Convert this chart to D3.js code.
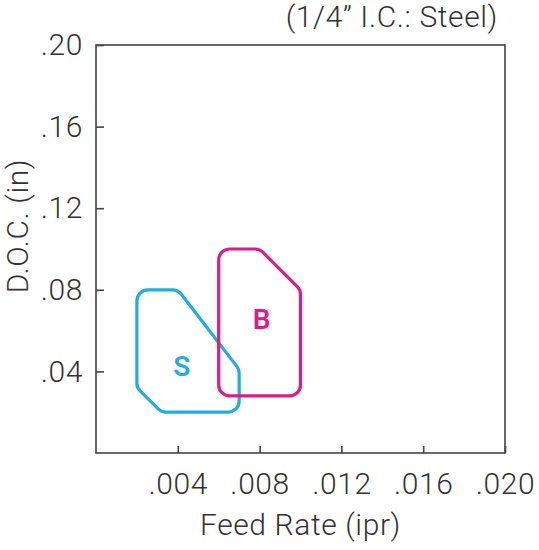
<!DOCTYPE html>
<html>
<head>
<meta charset="UTF-8">
<style>
body { margin: 0; padding: 0; background: #fff; }
svg { display: block; }
text { font-family: Roboto, "Liberation Sans", Arial, sans-serif; font-weight: 300; fill: #333; letter-spacing: 0.6px; }
</style>
</head>
<body>
<svg id="chart"></svg>
<script src="https://d3js.org/d3.v7.min.js"></script>
<script>

const width = 539, height = 550;

// chart data
const title = "(1/4\u201D I.C.: Steel)";
const xTicks = [0.004, 0.008, 0.012, 0.016, 0.020];
const yTicks = [0.04, 0.08, 0.12, 0.16, 0.20];
const regionNames = ["S", "B"];
const regionColors = ["#1fade4", "#e0198c"];
// outline corners of each region, [feed, doc]
const regionS = [[0.002, 0.080], [0.004, 0.080], [0.007, 0.041], [0.007, 0.020], [0.0032, 0.020], [0.002, 0.032]];
const regionB = [[0.006, 0.100], [0.008, 0.100], [0.010, 0.080], [0.010, 0.028], [0.006, 0.028]];
const labelPos = [[0.0042, 0.0427], [0.0081, 0.0657]];

const margin = { top: 45, right: 34, bottom: 97, left: 96 };
const fontSize = 30;

const svg = d3.select("#chart")
    .attr("width", width)
    .attr("height", height);

const x = d3.scaleLinear()
    .domain([0, 0.020])
    .range([margin.left, width - margin.right]);

const y = d3.scaleLinear()
    .domain([0, 0.20])
    .range([height - margin.bottom, margin.top]);

const trim = f => v => f(v).replace(/^0/, "");

// frame
svg.append("rect")
    .attr("x", x(0))
    .attr("y", y(0.20))
    .attr("width", x(0.020) - x(0))
    .attr("height", y(0) - y(0.20))
    .attr("fill", "none")
    .attr("stroke", "#444")
    .attr("stroke-width", 1.6);

// axes, ticks point inward
const xAxis = svg.append("g")
    .attr("transform", `translate(0,${y(0)})`)
    .call(d3.axisBottom(x).tickValues(xTicks).tickFormat(trim(d3.format(".3f")))
        .tickSize(-7).tickPadding(20));

const yAxis = svg.append("g")
    .attr("transform", `translate(${x(0)},0)`)
    .call(d3.axisLeft(y).tickValues(yTicks).tickFormat(trim(d3.format(".2f")))
        .tickSize(-8).tickPadding(13));

[xAxis, yAxis].forEach(g => {
  g.select(".domain").remove();
  g.selectAll(".tick line").attr("stroke", "#444").attr("stroke-width", 1.6);
  g.selectAll(".tick text")
    .attr("fill", "#333")
    .attr("font-family", null)
    .attr("font-size", fontSize);
});

// region outlines with rounded corners
function roundedPath(pts, r) {
  const p = d3.path();
  const P = pts.map(d => [x(d[0]), y(d[1])]);
  const n = P.length;
  const mid = (a, b) => [(a[0] + b[0]) / 2, (a[1] + b[1]) / 2];
  const start = mid(P[n - 1], P[0]);
  p.moveTo(start[0], start[1]);
  for (let i = 0; i < n; i++) {
    const c = P[i], nx = P[(i + 1) % n];
    const m = mid(c, nx);
    p.arcTo(c[0], c[1], m[0], m[1], r);
  }
  p.closePath();
  return p.toString();
}

const regions = [regionS, regionB];

svg.append("g")
  .selectAll("path")
  .data(regions)
  .join("path")
    .attr("d", d => roundedPath(d, 11))
    .attr("fill", "none")
    .attr("stroke", (d, i) => regionColors[i])
    .attr("stroke-width", 3.2)
    .attr("stroke-linejoin", "round");

svg.append("g")
  .selectAll("text")
  .data(regionNames)
  .join("text")
    .attr("x", (d, i) => x(labelPos[i][0]))
    .attr("y", (d, i) => y(labelPos[i][1]))
    .attr("dy", "0.36em")
    .attr("text-anchor", "middle")
    .attr("font-size", 28)
    .style("font-weight", 600)
    .style("letter-spacing", "0")
    .style("fill", (d, i) => regionColors[i])
    .text(d => d);

// titles
svg.append("text")
    .attr("x", 498)
    .attr("y", 27)
    .attr("text-anchor", "end")
    .attr("font-size", fontSize)
    .text(title);

svg.append("text")
    .attr("x", (x(0) + x(0.020)) / 2)
    .attr("y", 535)
    .attr("text-anchor", "middle")
    .attr("font-size", fontSize)
    .text("Feed Rate (ipr)");

svg.append("text")
    .attr("transform", `translate(28,${(y(0) + y(0.20)) / 2 - 23}) rotate(-90)`)
    .attr("text-anchor", "middle")
    .attr("font-size", fontSize)
    .text("D.O.C. (in)");

</script>
</body>
</html>
